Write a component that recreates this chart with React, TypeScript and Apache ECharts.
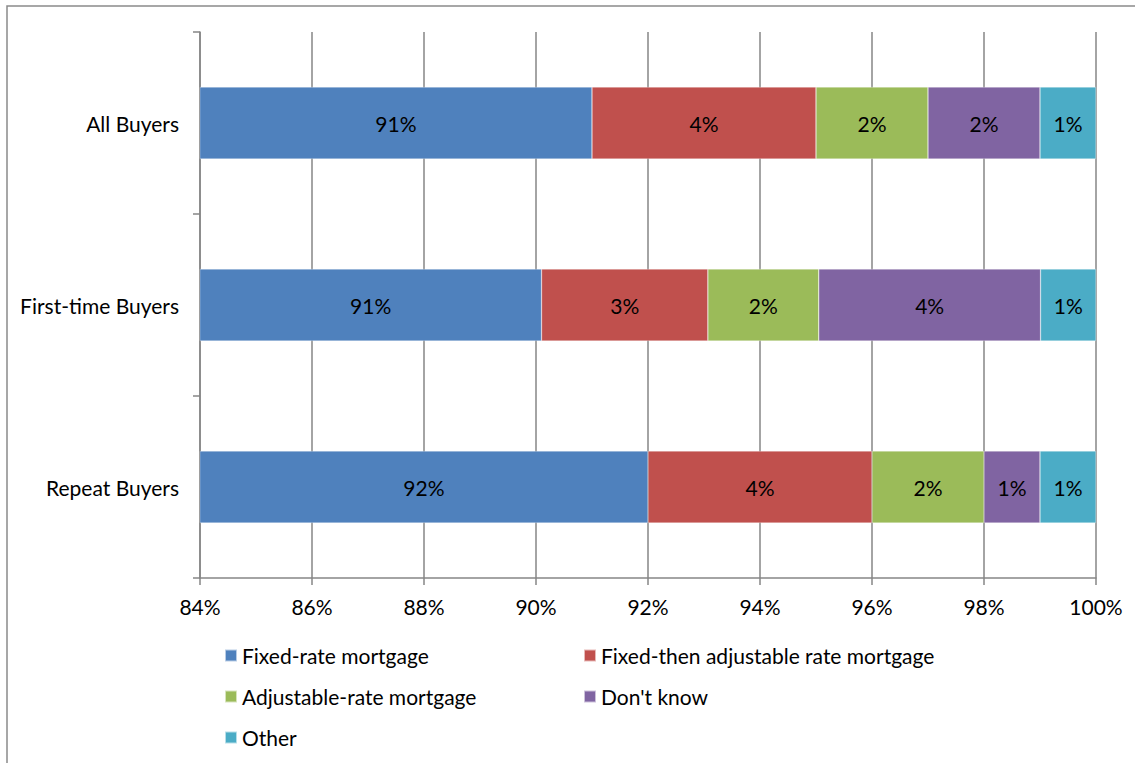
import React, { useEffect, useRef } from "react";
import * as echarts from "echarts";

const categories = ["All Buyers", "First-time Buyers", "Repeat Buyers"];
const seriesNames = [
  "Fixed-rate mortgage",
  "Fixed-then adjustable rate mortgage",
  "Adjustable-rate mortgage",
  "Don't know",
  "Other",
];
const fixedRate = [91, 91, 92];
const fixedThenAdjustable = [4, 3, 4];
const adjustableRate = [2, 2, 2];
const dontKnow = [2, 4, 1];
const other = [1, 1, 1];
const xTicks = { min: 84, max: 100, interval: 2 };
const colors = ["#4F81BD", "#C0504D", "#9BBB59", "#8064A2", "#4BACC6"];

const legendPos = [
  { left: 224, top: 645 },
  { left: 583, top: 645 },
  { left: 224, top: 686 },
  { left: 583, top: 686 },
  { left: 224, top: 727 },
];

export default function App() {
  const ref = useRef<HTMLDivElement>(null);
  useEffect(() => {
    if (!ref.current) return;
    const chart = echarts.init(ref.current, undefined, { renderer: "svg" });
    const raw = [fixedRate, fixedThenAdjustable, adjustableRate, dontKnow, other];
    const totals = categories.map((_, i) => raw.reduce((s, arr) => s + arr[i], 0));
    const font = "Lato, 'Open Sans', sans-serif";
    const fs = 21;
    const gray = "#868686";
    chart.setOption({
      animation: false,
      textStyle: { fontFamily: font },
      graphic: [
        {
          type: "rect",
          shape: { x: 7, y: 6, width: 1200, height: 800 },
          style: { fill: "none", stroke: "#8a8a8a", lineWidth: 1.5 },
          silent: true,
        },
      ],
      grid: { left: 200, right: 39, top: 32, bottom: 185 },
      legend: seriesNames.map((n, i) => ({
        data: [n],
        left: legendPos[i].left,
        top: legendPos[i].top,
        padding: 0,
        itemWidth: 12,
        itemHeight: 12,
        itemGap: 6,
        icon: "rect",
        textStyle: { fontSize: fs, color: "#000", fontFamily: font },
        selectedMode: false,
      })),
      xAxis: {
        type: "value",
        min: xTicks.min,
        max: xTicks.max,
        interval: xTicks.interval,
        axisLine: { show: true, lineStyle: { color: gray, width: 1.5 } },
        axisTick: { show: true, length: 7, lineStyle: { color: gray, width: 1.5 } },
        splitLine: { show: true, lineStyle: { color: gray, width: 1.5 } },
        axisLabel: {
          formatter: (v: number) => v + "%",
          fontSize: fs,
          color: "#000",
          margin: 18,
          fontFamily: font,
        },
      },
      yAxis: {
        type: "category",
        data: categories,
        inverse: true,
        axisLine: { show: true, lineStyle: { color: gray, width: 1.5 } },
        axisTick: { show: true, length: 7, lineStyle: { color: gray, width: 1.5 } },
        axisLabel: { fontSize: fs, color: "#000", margin: 21, fontFamily: font },
      },
      series: seriesNames.map((name, si) => ({
        name,
        type: "bar",
        stack: "total",
        barWidth: 72,
        itemStyle: { color: colors[si], borderColor: "rgba(255,255,255,0.6)", borderWidth: 0.5 },
        label: {
          show: true,
          position: "inside",
          color: "#000",
          fontSize: fs,
          fontFamily: font,
          formatter: (p: any) => raw[si][p.dataIndex] + "%",
        },
        data: raw[si].map((v, i) => (v / totals[i]) * 100),
      })),
    });
    return () => chart.dispose();
  }, []);
  return (
    <div
      ref={ref}
      style={{ position: "fixed", left: 0, top: 0, width: 1135, height: 763, background: "#fff" }}
    />
  );
}
